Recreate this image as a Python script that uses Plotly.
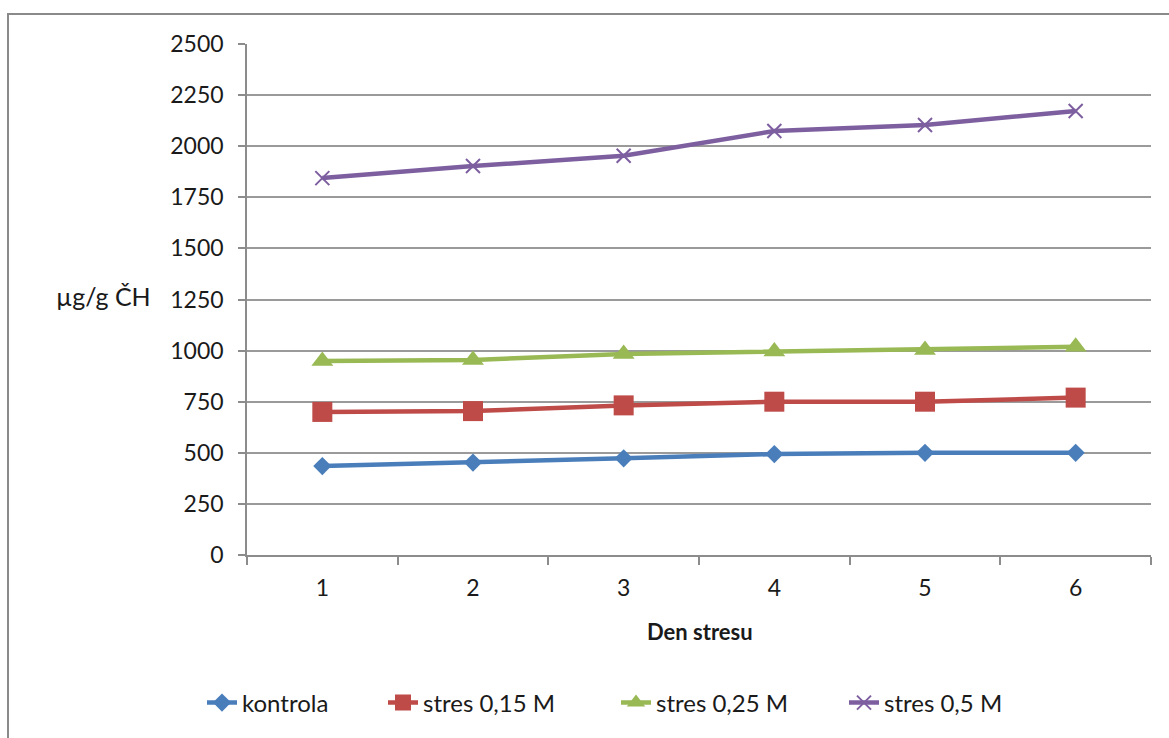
import plotly.graph_objects as go

# Days of stress and measured content (µg/g ČH) for each treatment
days = [1, 2, 3, 4, 5, 6]
kontrola = [435, 452, 473, 494, 500, 500]
stres_015 = [700, 704, 732, 750, 750, 770]
stres_025 = [949, 954, 983, 995, 1003, 1019]
stres_05 = [1844, 1903, 1953, 2074, 2104, 2172]

series_names = ["kontrola", "stres 0,15 M", "stres 0,25 M", "stres 0,5 M"]
y_ticks = [0, 250, 500, 750, 1000, 1250, 1500, 1750, 2000, 2250, 2500]

FONT = "Lato"
TEXT = "#1a1a1a"
W, H = 1169, 738
L, R, T, B = 247, 18, 44, 183
PW = W - L - R
PH = H - T - B

styles = [
    dict(color="#4A7EBB", symbol="diamond", size=14, line=dict(width=0)),
    dict(color="#BE4B48", symbol="square", size=20, line=dict(width=0)),
    dict(color="#98B954", symbol="triangle-up", size=19, line=dict(width=0)),
    dict(color="#7D5FA0", symbol="x-thin", size=14, line=dict(width=2, color="#7D5FA0")),
]
legend_x_px = [202, 383, 616, 844]

fig = go.Figure()
for i, (name, vals) in enumerate(zip(series_names, [kontrola, stres_015, stres_025, stres_05])):
    st = styles[i]
    fig.add_trace(go.Scatter(
        x=days, y=vals, name=name, mode="lines+markers",
        line=dict(color=st["color"], width=4.5),
        marker=dict(color=st["color"], symbol=st["symbol"], size=st["size"], line=st["line"]),
        legend="legend" if i == 0 else f"legend{i + 1}",
    ))

def px_x(p):
    return (p - L) / PW

def px_y(p):
    return 1 - (p - T) / PH

legend_common = dict(
    orientation="h", xanchor="left", yanchor="middle",
    font=dict(family=FONT, size=24, color=TEXT),
    bgcolor="rgba(0,0,0,0)", borderwidth=0,
)
layout_legends = {}
for i, xp in enumerate(legend_x_px):
    key = "legend" if i == 0 else f"legend{i + 1}"
    layout_legends[key] = dict(legend_common, x=px_x(xp), y=px_y(703))

fig.update_layout(
    width=W, height=H,
    margin=dict(l=L, r=R, t=T, b=B),
    paper_bgcolor="white", plot_bgcolor="white",
    showlegend=True,
    font=dict(family=FONT, size=23, color=TEXT),
    **layout_legends,
)

fig.update_xaxes(
    range=[0.5, 6.5], tickvals=days, ticktext=[str(d) for d in days],
    ticks="", showgrid=False, zeroline=False,
    showline=True, linecolor="#8c8c8c", linewidth=1.5,
    tickfont=dict(family=FONT, size=23, color=TEXT),
    ticklabelstandoff=12,
    minor=dict(tickvals=[0.5, 1.5, 2.5, 3.5, 4.5, 5.5, 6.5], ticks="outside",
               ticklen=8, tickcolor="#8c8c8c", tickwidth=1.5, showgrid=False),
)
fig.update_yaxes(
    range=[0, 2500], tickvals=y_ticks, ticks="outside", ticklen=7,
    tickcolor="#8c8c8c", tickwidth=1.5,
    showgrid=True, gridcolor="#9a9a9a", gridwidth=1.5, zeroline=False,
    showline=True, linecolor="#8c8c8c", linewidth=1.5,
    tickfont=dict(family=FONT, size=23, color=TEXT),
    ticklabelstandoff=10,
)

# Axis titles
fig.add_annotation(text="µg/g ČH", xref="paper", yref="paper",
                   x=px_x(103), y=px_y(296), showarrow=False,
                   xanchor="center", yanchor="middle",
                   font=dict(family=FONT, size=25, color=TEXT))
fig.add_annotation(text="<b>Den stresu</b>", xref="paper", yref="paper",
                   x=px_x(700), y=px_y(631), showarrow=False,
                   xanchor="center", yanchor="middle",
                   font=dict(family=FONT, size=22, color=TEXT))

# Chart frame
fig.add_shape(type="rect", xref="paper", yref="paper",
              x0=px_x(8), x1=px_x(1180), y0=px_y(750), y1=px_y(14),
              line=dict(color="#8a8a8a", width=2), fillcolor="rgba(0,0,0,0)",
              layer="below")

fig.write_html("out.html")
